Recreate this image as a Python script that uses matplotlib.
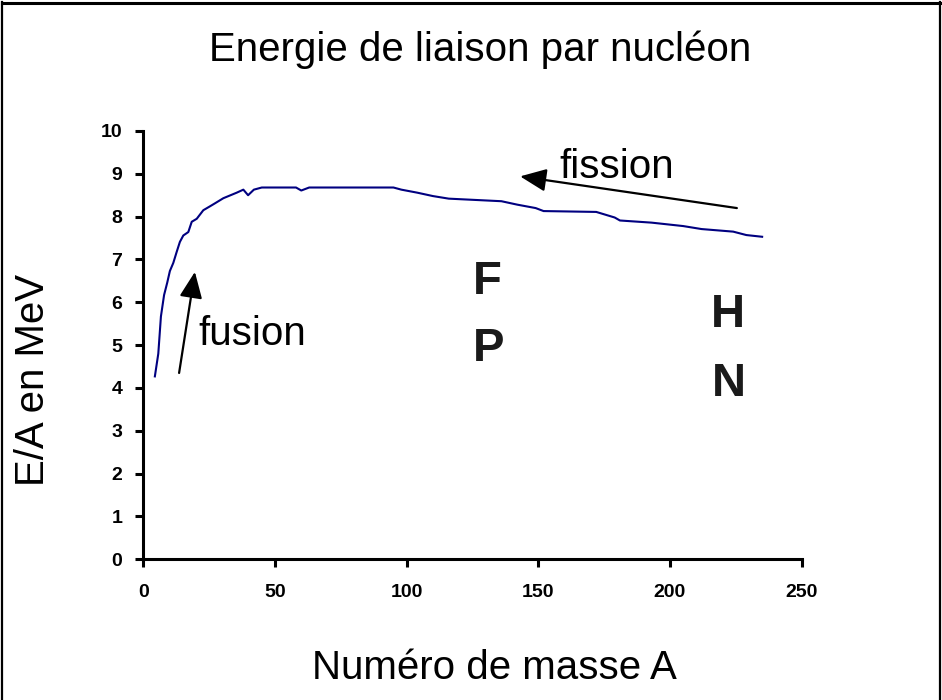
import numpy as np
import matplotlib
matplotlib.use('Agg')
import matplotlib.pyplot as plt
from matplotlib.lines import Line2D

plt.rcParams['font.family'] = ['Liberation Sans', 'DejaVu Sans']

# binding energy per nucleon
mass_A = [4.4, 5.7, 6.7, 7.9, 9.1, 10.1, 11.4, 12.7, 13.9, 15.2, 17.1, 18.4,
          20.3, 22.8, 25.3, 27.2, 30.4, 35.5, 38.0, 39.8, 42.0, 45, 58, 60,
          63, 95, 98, 104, 110, 116, 136, 142, 149, 152, 172, 179, 181,
          193, 205, 212, 224, 229, 235]
energy = [4.27, 4.80, 5.67, 6.17, 6.46, 6.73, 6.92, 7.18, 7.41, 7.56, 7.64, 7.88,
          7.95, 8.15, 8.24, 8.31, 8.43, 8.56, 8.63, 8.50, 8.63, 8.68, 8.68, 8.61,
          8.68, 8.68, 8.63, 8.56, 8.48, 8.42, 8.36, 8.28, 8.20, 8.13, 8.11, 7.98, 7.91,
          7.86, 7.78, 7.71, 7.65, 7.57, 7.53]

x_ticks = [0, 50, 100, 150, 200, 250]
y_ticks = list(range(0, 11))

# arrows (tail -> tip)
fusion_tail, fusion_tip = (13.6, 4.35), (19.6, 6.71)
fission_tail, fission_tip = (225.4, 8.20), (143.1, 8.94)

fig = plt.figure(figsize=(9.42, 7.0), dpi=100)
ax = fig.add_axes([0.1521, 0.201, 0.6989, 0.6119])

ax.plot(mass_A, energy, color='#000080', lw=1.5)

ax.set_xlim(0, 250)
ax.set_ylim(0, 10)
ax.set_xticks(x_ticks)
ax.set_yticks(y_ticks)
for side in ['top', 'right']:
    ax.spines[side].set_visible(False)
for side in ['left', 'bottom']:
    ax.spines[side].set_linewidth(2.2)
ax.tick_params(axis='both', direction='out', length=6, width=2.2,
               labelsize=14)
ax.tick_params(axis='y', pad=9)
ax.tick_params(axis='x', pad=12)
for lbl in ax.get_xticklabels() + ax.get_yticklabels():
    lbl.set_fontweight('bold')

arrow_kw = dict(arrowstyle='-|>,head_length=0.8,head_width=0.35',
                color='black', lw=1.6, mutation_scale=20, shrinkA=0, shrinkB=0)
ax.annotate('', xy=fusion_tip, xytext=fusion_tail, arrowprops=arrow_kw)
ax.annotate('', xy=fission_tip, xytext=fission_tail, arrowprops=arrow_kw)

ax.text(21, 5.0, 'fusion', fontsize=29, va='baseline', ha='left')
ax.text(158, 8.9, 'fission', fontsize=29, va='baseline', ha='left')

big = dict(fontsize=34, fontweight='bold', color='#1a1a1a', ha='center', va='center')
ax.text(130.5, 6.47, 'F', **big)
ax.text(131, 4.9, 'P', **big)
ax.text(222, 5.7, 'H', **big)
ax.text(222.5, 4.1, 'N', **big)

fig.text(0.5096, 0.929, 'Energie de liaison par nucléon', fontsize=29,
         ha='center', va='center')
fig.text(0.5244, 0.046, 'Numéro de masse A', fontsize=29, ha='center', va='center')
fig.text(0.035, 0.457, 'E/A en MeV', fontsize=29, rotation=90,
         ha='center', va='center')

# frame around the picture (no bottom edge)
fig.add_artist(Line2D([0.0021, 0.0021], [0, 0.997], color='black', lw=1.6,
                      transform=fig.transFigure))
fig.add_artist(Line2D([0.9979, 0.9979], [0, 0.997], color='black', lw=1.6,
                      transform=fig.transFigure))
fig.add_artist(Line2D([0.0021, 0.9979], [0.9957, 0.9957], color='black', lw=2.2,
                      transform=fig.transFigure))

fig.savefig('out.png', dpi=100)
